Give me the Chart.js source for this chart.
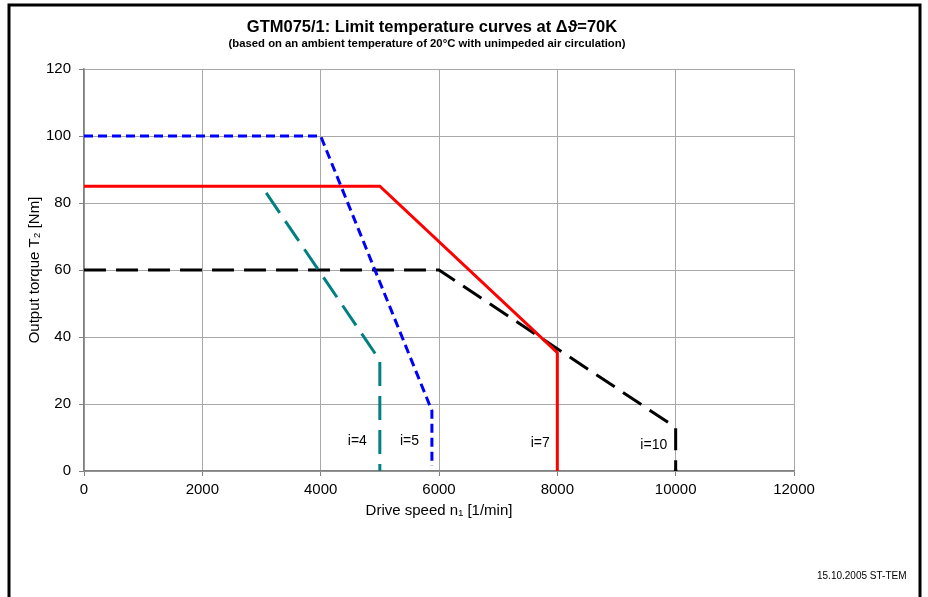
<!DOCTYPE html>
<html>
<head>
<meta charset="utf-8">
<script src="https://cdn.jsdelivr.net/npm/chart.js@4/dist/chart.umd.min.js"></script>
<style>
  html, body { margin: 0; padding: 0; background: #fff; }
  #wrap { width: 928px; height: 597px; }
</style>
</head>
<body>
<div id="wrap"><canvas id="grafica" width="928" height="597"></canvas></div>
<script>
// corbes de temperatura límit GTM075/1

const titol = "GTM075/1: Limit temperature curves at \u0394\u03D1=70K";
const subtitol = "(based on an ambient temperature of 20\u00B0C with unimpeded air circulation)";
const dataText = "15.10.2005 ST-TEM";

const xTicks = [0, 2000, 4000, 6000, 8000, 10000, 12000];
const yTicks = [0, 20, 40, 60, 80, 100, 120];

// i=4
const i4X = [3080, 5000, 5000];
const i4Y = [83, 33, 0];
// i=5
const i5X = [0, 4000, 5880, 5880];
const i5Y = [100, 100, 18, 1.5];
// i=7
const i7X = [0, 5000, 8000, 8000];
const i7Y = [85, 85, 35.3, 0];
// i=10
const i10X = [0, 6000, 10000, 10000];
const i10Y = [60, 60, 13, 0];

// etiquetes "i=..."
const etiquetes = ["i=4", "i=5", "i=7", "i=10"];
const etiqX = [4620, 5500, 7710, 9630];
const etiqY = [9, 9, 8.4, 7.8];

function punts(xs, ys) {
  return xs.map((x, k) => ({ x: x, y: ys[k] }));
}

Chart.defaults.font.family = "'Liberation Sans', Arial, sans-serif";
Chart.defaults.color = "#000";

const marc = {
  id: "marc",
  afterDraw(chart) {
    const ctx = chart.ctx;
    ctx.save();
    // vora
    ctx.strokeStyle = "#000";
    ctx.lineWidth = 3;
    ctx.beginPath();
    ctx.moveTo(9, 600);
    ctx.lineTo(9, 5);
    ctx.lineTo(920, 5);
    ctx.lineTo(920, 600);
    ctx.stroke();
    // títols
    ctx.fillStyle = "#000";
    ctx.textAlign = "center";
    ctx.textBaseline = "alphabetic";
    ctx.font = "bold 16.5px 'Liberation Sans', Arial, sans-serif";
    ctx.fillText(titol, 432, 32);
    ctx.font = "bold 11.3px 'Liberation Sans', Arial, sans-serif";
    ctx.fillText(subtitol, 427, 47);
    ctx.font = "10px 'Liberation Sans', Arial, sans-serif";
    ctx.textAlign = "left";
    ctx.textBaseline = "middle";
    ctx.fillText(dataText, 817, 576);
    // etiquetes de les corbes
    const sx = chart.scales.x, sy = chart.scales.y;
    ctx.font = "14px 'Liberation Sans', Arial, sans-serif";
    ctx.textAlign = "center";
    etiquetes.forEach((t, k) => {
      ctx.fillText(t, sx.getPixelForValue(etiqX[k]), sy.getPixelForValue(etiqY[k]));
    });
    ctx.restore();
  }
};

const data = {
  datasets: [
    {
      label: "i=4",
      data: punts(i4X, i4Y),
      borderColor: "#008080",
      borderWidth: 3,
      borderDash: [24, 10],
      pointRadius: 0
    },
    {
      label: "i=5",
      data: punts(i5X, i5Y),
      borderColor: "#0000ff",
      borderWidth: 3,
      borderDash: [9, 5],
      pointRadius: 0
    },
    {
      label: "i=7",
      data: punts(i7X, i7Y),
      borderColor: "#ff0000",
      borderWidth: 3,
      pointRadius: 0
    },
    {
      label: "i=10",
      data: punts(i10X, i10Y),
      borderColor: "#000000",
      borderWidth: 3,
      borderDash: [22, 10],
      pointRadius: (c) => (c.dataIndex === i10X.length - 1 ? 2 : 0),
      pointBackgroundColor: "#000",
      pointBorderWidth: 0
    }
  ]
};

const config = {
  type: "scatter",
  data: data,
  plugins: [marc],
  options: {
    responsive: false,
    animation: false,
    showLine: true,
    layout: { padding: { left: 0, right: 134, top: 69, bottom: 66 } },
    plugins: {
      legend: { display: false },
      tooltip: { enabled: false }
    },
    scales: {
      x: {
        type: "linear",
        min: 0,
        max: 12000,
        afterBuildTicks: (s) => { s.ticks = xTicks.map(v => ({ value: v })); },
        afterFit: (s) => { s.height = 60; },
        ticks: { font: { size: 15 }, padding: 5, maxRotation: 0, callback: (v) => String(v) },
        grid: { color: "#a8a8a8", tickLength: 5, tickColor: "#808080" },
        border: { color: "#808080", width: 1.5 },
        title: {
          display: true,
          text: "Drive speed n\u2081 [1/min]",
          font: { size: 15 },
          padding: { top: 0, bottom: 11 }
        }
      },
      y: {
        min: 0,
        max: 120,
        afterBuildTicks: (s) => { s.ticks = yTicks.map(v => ({ value: v })); },
        afterFit: (s) => { s.width = 84; },
        ticks: { font: { size: 15 }, padding: 8, callback: (v) => String(v) },
        grid: { color: "#a8a8a8", tickLength: 5, tickColor: "#808080" },
        border: { color: "#808080", width: 1.5 },
        title: {
          display: true,
          text: "Output torque T\u2082 [Nm]",
          font: { size: 15 },
          padding: { top: 26, bottom: 0 }
        }
      }
    }
  }
};

const grafica = document.getElementById("grafica");
let myChart = new Chart(grafica, config);
</script>
</body>
</html>
